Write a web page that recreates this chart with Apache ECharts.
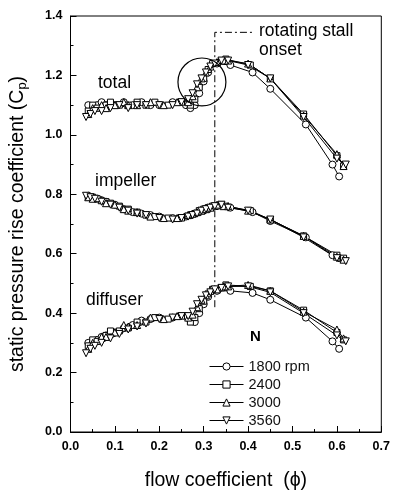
<!DOCTYPE html>
<html>
<head>
<meta charset="utf-8">
<script src="https://cdn.jsdelivr.net/npm/echarts@6/dist/echarts.min.js"></script>
<style>
  html, body { margin: 0; padding: 0; background: #fff; }
  #main { width: 393px; height: 496px; }
</style>
</head>
<body>
<div id="main"></div>
<script>
// flow coefficient (phi) for each speed
var phiA = [0.04, 0.05, 0.06, 0.07, 0.08, 0.10, 0.12, 0.14, 0.16, 0.18, 0.20, 0.23, 0.26, 0.27, 0.28, 0.29, 0.30, 0.31, 0.33, 0.36, 0.41, 0.45, 0.53, 0.59, 0.605];
var phiB = [0.04, 0.05, 0.06, 0.08, 0.09, 0.11, 0.13, 0.15, 0.17, 0.19, 0.22, 0.25, 0.27, 0.28, 0.29, 0.30, 0.31, 0.32, 0.34, 0.35, 0.405, 0.45, 0.525, 0.60, 0.615];
var phiC = [0.04, 0.05, 0.07, 0.08, 0.10, 0.12, 0.13, 0.15, 0.18, 0.21, 0.24, 0.265, 0.275, 0.285, 0.295, 0.305, 0.315, 0.33, 0.345, 0.355, 0.40, 0.45, 0.525, 0.60, 0.615];
var phiD = [0.035, 0.045, 0.055, 0.07, 0.09, 0.11, 0.13, 0.15, 0.17, 0.20, 0.23, 0.25, 0.265, 0.275, 0.285, 0.295, 0.305, 0.315, 0.325, 0.34, 0.355, 0.40, 0.45, 0.525, 0.60, 0.62];

// total
var totalA = [1.10, 1.09, 1.10, 1.11, 1.10, 1.10, 1.11, 1.10, 1.11, 1.10, 1.10, 1.11, 1.10, 1.09, 1.10, 1.14, 1.18, 1.21, 1.24, 1.235, 1.21, 1.155, 1.035, 0.90, 0.86];
var totalB = [1.08, 1.10, 1.09, 1.10, 1.11, 1.10, 1.10, 1.11, 1.10, 1.11, 1.10, 1.11, 1.10, 1.12, 1.16, 1.19, 1.22, 1.24, 1.25, 1.255, 1.235, 1.19, 1.07, 0.93, 0.895];
var totalC = [1.07, 1.09, 1.10, 1.09, 1.10, 1.11, 1.10, 1.10, 1.11, 1.10, 1.11, 1.11, 1.13, 1.16, 1.19, 1.21, 1.23, 1.245, 1.25, 1.25, 1.24, 1.19, 1.065, 0.935, 0.895];
var totalD = [1.06, 1.07, 1.08, 1.08, 1.09, 1.10, 1.09, 1.10, 1.10, 1.10, 1.10, 1.11, 1.12, 1.14, 1.17, 1.19, 1.21, 1.23, 1.24, 1.25, 1.25, 1.235, 1.19, 1.06, 0.92, 0.90];

// impeller
var impA = [0.795, 0.79, 0.785, 0.78, 0.775, 0.765, 0.75, 0.74, 0.735, 0.73, 0.725, 0.72, 0.725, 0.73, 0.735, 0.74, 0.745, 0.75, 0.76, 0.755, 0.74, 0.71, 0.655, 0.595, 0.585];
var impB = [0.79, 0.79, 0.785, 0.775, 0.77, 0.76, 0.75, 0.74, 0.73, 0.725, 0.72, 0.72, 0.73, 0.735, 0.745, 0.75, 0.755, 0.76, 0.765, 0.76, 0.745, 0.715, 0.66, 0.595, 0.585];
var impC = [0.79, 0.785, 0.78, 0.77, 0.765, 0.75, 0.745, 0.74, 0.725, 0.72, 0.72, 0.73, 0.735, 0.74, 0.745, 0.75, 0.755, 0.765, 0.76, 0.76, 0.745, 0.715, 0.66, 0.59, 0.58];
var impD = [0.795, 0.79, 0.785, 0.775, 0.765, 0.755, 0.745, 0.735, 0.73, 0.72, 0.715, 0.72, 0.725, 0.73, 0.735, 0.745, 0.75, 0.755, 0.76, 0.765, 0.755, 0.745, 0.715, 0.655, 0.585, 0.575];

// diffuser
var difA = [0.30, 0.30, 0.31, 0.32, 0.325, 0.335, 0.35, 0.36, 0.375, 0.38, 0.385, 0.385, 0.39, 0.375, 0.37, 0.40, 0.43, 0.455, 0.475, 0.475, 0.468, 0.445, 0.385, 0.305, 0.28];
var difB = [0.29, 0.31, 0.305, 0.325, 0.34, 0.34, 0.35, 0.37, 0.37, 0.385, 0.38, 0.39, 0.37, 0.385, 0.415, 0.44, 0.465, 0.48, 0.485, 0.495, 0.49, 0.475, 0.41, 0.335, 0.31];
var difC = [0.28, 0.30, 0.32, 0.32, 0.335, 0.36, 0.355, 0.36, 0.385, 0.38, 0.39, 0.385, 0.395, 0.42, 0.445, 0.46, 0.475, 0.48, 0.49, 0.49, 0.495, 0.475, 0.405, 0.345, 0.315];
var difD = [0.265, 0.28, 0.29, 0.30, 0.315, 0.33, 0.345, 0.355, 0.365, 0.38, 0.385, 0.39, 0.39, 0.405, 0.43, 0.445, 0.46, 0.47, 0.48, 0.485, 0.49, 0.49, 0.47, 0.40, 0.325, 0.305];

var speedNames = ['1800 rpm', '2400', '3000', '3560'];
var stallLine = [[0.325, 0.42], [0.325, 1.345], [0.41, 1.345]];

var FONT = '"Liberation Sans", Arial, sans-serif';

function zip(xs, ys) {
  var out = [];
  for (var i = 0; i < xs.length; i++) out.push([xs[i], ys[i]]);
  return out;
}

var speeds = [
  { name: speedNames[0], phi: phiA, sets: [totalA, impA, difA], symbol: 'circle', rot: 0, size: 7 },
  { name: speedNames[1], phi: phiB, sets: [totalB, impB, difB], symbol: 'rect', rot: 0, size: 6 },
  { name: speedNames[2], phi: phiC, sets: [totalC, impC, difC], symbol: 'triangle', rot: 0, size: 7 },
  { name: speedNames[3], phi: phiD, sets: [totalD, impD, difD], symbol: 'triangle', rot: 180, size: 7 }
];

var series = [];
speeds.forEach(function (s) {
  s.sets.forEach(function (ys) {
    series.push({
      name: s.name,
      type: 'line',
      data: zip(s.phi, ys),
      symbol: s.symbol,
      symbolRotate: s.rot,
      symbolSize: s.size,
      showAllSymbol: true,
      lineStyle: { color: '#000', width: 1 },
      itemStyle: { color: '#fff', borderColor: '#000', borderWidth: 1 },
      emphasis: { disabled: true },
      z: 3
    });
  });
});

series.push({
  type: 'line',
  data: stallLine,
  symbol: 'none',
  lineStyle: { color: '#000', width: 1, type: [7, 3, 2, 3] },
  z: 2,
  silent: true
});

var myChart = echarts.init(document.getElementById('main'));

var legendData = speedNames.map(function (n) {
  return { name: n, lineStyle: { width: 1, color: '#000' }, itemStyle: { color: '#fff', borderColor: '#000', borderWidth: 1 } };
});

var option = {
  animation: false,
  backgroundColor: '#fff',
  grid: { left: 69, right: 7, top: 16, bottom: 58, show: true, borderColor: '#000', borderWidth: 1 },
  legend: {
    data: legendData,
    orient: 'vertical',
    left: 204,
    top: 354,
    itemWidth: 34,
    itemHeight: 9,
    itemGap: 3,
    lineStyle: { width: 1, color: '#000' },
    itemStyle: { borderWidth: 1 },
    textStyle: { fontFamily: FONT, fontSize: 14.5, color: '#111' },
    selectedMode: false
  },
  xAxis: {
    type: 'value',
    min: 0, max: 0.7, interval: 0.1,
    name: 'flow coefficient  (\u03d5)',
    nameLocation: 'middle',
    nameGap: 39,
    nameTextStyle: { fontFamily: FONT, fontSize: 19.5, color: '#000' },
    axisLine: { lineStyle: { color: '#000' } },
    axisTick: { inside: true, length: 6, lineStyle: { color: '#000' } },
    minorTick: { show: true, splitNumber: 2, length: 3, lineStyle: { color: '#000' } },
    splitLine: { show: false },
    axisLabel: { fontFamily: FONT, fontSize: 12.5, fontWeight: 'bold', color: '#000', margin: 8,
      formatter: function (v) { return v.toFixed(1); } }
  },
  yAxis: {
    type: 'value',
    min: 0, max: 1.4, interval: 0.2,
    name: 'static pressure rise coefficient (C{sub|p})',
    nameLocation: 'middle',
    nameGap: 42,
    nameTextStyle: { fontFamily: FONT, fontSize: 19.5, color: '#000',
      rich: { sub: { fontFamily: FONT, fontSize: 13, color: '#000', verticalAlign: 'bottom', padding: [8, 0, 0, 0] } } },
    axisLine: { lineStyle: { color: '#000' } },
    axisTick: { inside: true, length: 6, lineStyle: { color: '#000' } },
    minorTick: { show: true, splitNumber: 2, length: 3, lineStyle: { color: '#000' } },
    splitLine: { show: false },
    axisLabel: { fontFamily: FONT, fontSize: 12.5, fontWeight: 'bold', color: '#000', margin: 8,
      formatter: function (v) { return v.toFixed(1); } }
  },
  series: series
};
myChart.setOption(option);

// annotations: labels, stall circle
var c = myChart.convertToPixel({ gridIndex: 0 }, [0.296, 1.178]);
var r = myChart.convertToPixel({ gridIndex: 0 }, [0.296 + 0.054, 1.178])[0] - c[0];
var txt = { fontFamily: FONT, fontSize: 17.5, fill: '#000' };
myChart.setOption({
  graphic: [
    { type: 'circle', shape: { cx: c[0], cy: c[1], r: r }, style: { fill: 'none', stroke: '#000', lineWidth: 1.2 }, z: 10 },
    { type: 'text', left: 98, top: 74, style: Object.assign({ text: 'total' }, txt) },
    { type: 'text', left: 95, top: 172, style: Object.assign({ text: 'impeller' }, txt) },
    { type: 'text', left: 86, top: 291, style: Object.assign({ text: 'diffuser' }, txt) },
    { type: 'text', left: 259, top: 22, style: Object.assign({ text: 'rotating stall\nonset', lineHeight: 19 }, txt) },
    { type: 'text', left: 250, top: 329, style: { text: 'N', fontFamily: FONT, fontSize: 15, fontWeight: 'bold', fill: '#000' } }
  ]
});
</script>
</body>
</html>
